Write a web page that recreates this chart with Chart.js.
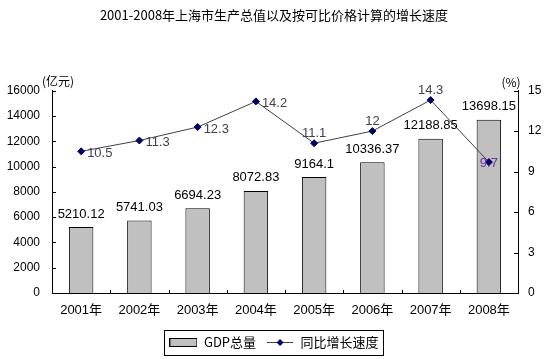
<!DOCTYPE html>
<html lang="zh">
<head>
  <meta charset="UTF-8">
  <title>2001-2008年上海市生产总值</title>
  <script src="https://cdn.jsdelivr.net/npm/chart.js"></script>
  <style>
    body { margin: 0; background: #fff; }
    canvas { display: block; }
  </style>
</head>
<body>
<canvas id="chart" width="548" height="359"></canvas>
<script>
const years = ["2001年", "2002年", "2003年", "2004年", "2005年", "2006年", "2007年", "2008年"];
const gdp = [5210.12, 5741.03, 6694.23, 8072.83, 9164.1, 10336.37, 12188.85, 13698.15];
const growth = [10.5, 11.3, 12.3, 14.2, 11.1, 12, 14.3, 9.7];
const gdpTicks = [0, 2000, 4000, 6000, 8000, 10000, 12000, 14000, 16000];
const growthTicks = [0, 3, 6, 9, 12, 15];

const FONT = "'Liberation Sans', Arial, 'Noto Sans CJK SC', sans-serif";
const CJK = "'Noto Sans CJK SC', 'Liberation Sans', sans-serif";

// legend swatches
function barSwatch() {
  const c = document.createElement("canvas");
  c.width = 28; c.height = 9;
  const g = c.getContext("2d");
  g.fillStyle = "#c0c0c0";
  g.fillRect(0, 0, 28, 9);
  g.strokeStyle = "#000";
  g.lineWidth = 1;
  g.strokeRect(0.5, 0.5, 27, 8);
  return c;
}
function lineSwatch() {
  const c = document.createElement("canvas");
  c.width = 26; c.height = 9;
  const g = c.getContext("2d");
  g.strokeStyle = "#404040";
  g.lineWidth = 1;
  g.beginPath(); g.moveTo(0, 4.5); g.lineTo(26, 4.5); g.stroke();
  g.fillStyle = "#000066";
  g.beginPath();
  g.moveTo(13, 1); g.lineTo(16.5, 4.5); g.lineTo(13, 8); g.lineTo(9.5, 4.5);
  g.closePath(); g.fill();
  return c;
}

// where each growth label sits relative to its point
const growthLabelPos = ["right", "right", "right", "right", "above", "above", "above", "center"];

const decorations = {
  id: "decorations",
  afterDatasetsDraw(chart) {
    const ctx = chart.ctx;
    ctx.save();
    ctx.font = "13px " + FONT;
    ctx.textBaseline = "middle";

    // bar value labels
    ctx.fillStyle = "#000";
    ctx.textAlign = "center";
    chart.getDatasetMeta(0).data.forEach((bar, i) => {
      ctx.fillText(String(gdp[i]), bar.x, bar.y - 13);
    });

    // growth labels
    chart.getDatasetMeta(1).data.forEach((pt, i) => {
      const pos = growthLabelPos[i];
      const txt = String(growth[i]);
      if (pos === "right") {
        ctx.fillStyle = "#404050";
        ctx.textAlign = "left";
        ctx.fillText(txt, pt.x + 6, pt.y + 2);
      } else if (pos === "above") {
        ctx.fillStyle = "#404050";
        ctx.textAlign = "center";
        ctx.fillText(txt, pt.x, pt.y - 10);
      } else {
        ctx.fillStyle = "#7030a0";
        ctx.textAlign = "center";
        ctx.fillText(txt, pt.x, pt.y + 1);
      }
    });
    ctx.restore();
  },
  afterDraw(chart) {
    const ctx = chart.ctx;
    const area = chart.chartArea;
    const x = chart.scales.x;
    const y = chart.scales.y;
    const y1 = chart.scales.y1;
    ctx.save();
    ctx.strokeStyle = "#000";
    ctx.lineWidth = 1;
    ctx.beginPath();
    gdpTicks.forEach(v => {
      const py = Math.round(y.getPixelForValue(v)) + 0.5;
      ctx.moveTo(area.left, py); ctx.lineTo(area.left + 4, py);
    });
    growthTicks.forEach(v => {
      const py = Math.round(y1.getPixelForValue(v)) + 0.5;
      ctx.moveTo(area.right - 4, py); ctx.lineTo(area.right, py);
    });
    for (let i = 1; i < years.length; i++) {
      const px = Math.round((x.getPixelForTick(i - 1) + x.getPixelForTick(i)) / 2) + 0.5;
      ctx.moveTo(px, area.bottom); ctx.lineTo(px, area.bottom - 3);
    }
    ctx.stroke();

    // axis units
    ctx.fillStyle = "#000";
    ctx.textBaseline = "middle";
    ctx.textAlign = "center";
    ctx.font = "12px " + CJK;
    ctx.fillText("(亿元)", area.left + 6, area.top - 9);
    ctx.fillText("(%)", area.right - 7, area.top - 8);

    // legend frame
    const boxes = chart.legend.legendHitBoxes;
    if (boxes && boxes.length) {
      const l = Math.min(...boxes.map(b => b.left)) - 5;
      const r = Math.max(...boxes.map(b => b.left + b.width)) + 5;
      const t = Math.min(...boxes.map(b => b.top)) - 6;
      const btm = Math.max(...boxes.map(b => b.top + b.height)) + 6;
      ctx.strokeStyle = "#000";
      ctx.strokeRect(Math.round(l) + 0.5, Math.round(t) + 0.5, Math.round(r - l), Math.round(btm - t));
    }
    ctx.restore();
  }
};

new Chart(document.getElementById("chart"), {
  data: {
    labels: years,
    datasets: [
      {
        type: "bar",
        label: "GDP总量",
        data: gdp,
        yAxisID: "y",
        backgroundColor: "#c0c0c0",
        borderColor: "#000",
        borderWidth: 1,
        categoryPercentage: 1,
        barPercentage: 0.42,
        order: 2
      },
      {
        type: "line",
        label: "同比增长速度",
        data: growth,
        yAxisID: "y1",
        borderColor: "#404040",
        borderWidth: 1,
        pointStyle: "rectRot",
        pointRadius: 3.5,
        pointBackgroundColor: "#000066",
        pointBorderColor: "#000066",
        tension: 0,
        order: 1
      }
    ]
  },
  options: {
    responsive: false,
    animation: false,
    layout: { padding: { left: 0, right: 0, top: 0, bottom: 0 } },
    plugins: {
      title: {
        display: true,
        text: "2001-2008年上海市生产总值以及按可比价格计算的增长速度",
        color: "#000",
        font: { family: CJK, size: 13, weight: "normal" },
        padding: { top: 7, bottom: 68 }
      },
      legend: {
        position: "bottom",
        labels: {
          usePointStyle: true,
          pointStyleWidth: 28,
          padding: 10,
          color: "#000",
          font: { family: CJK, size: 13 },
          generateLabels(chart) {
            const items = Chart.defaults.plugins.legend.labels.generateLabels(chart);
            items.sort((a, b) => a.datasetIndex - b.datasetIndex);
            items.forEach(it => { it.pointStyle = it.datasetIndex === 0 ? barSwatch() : lineSwatch(); });
            return items;
          }
        }
      },
      tooltip: { enabled: false }
    },
    scales: {
      x: {
        offset: true,
        grid: { display: false, drawTicks: false },
        border: { color: "#000", width: 1 },
        ticks: { color: "#000", font: { family: FONT, size: 13 }, padding: 10, maxRotation: 0 },
        afterFit(s) { s.height = 33; }
      },
      y: {
        position: "left",
        min: 0,
        max: 16000,
        grid: { display: false, drawTicks: false },
        border: { color: "#000", width: 1 },
        ticks: { stepSize: 2000, color: "#000", font: { family: FONT, size: 12 }, padding: 12, callback: v => String(v) },
        afterFit(s) { s.width = 52; }
      },
      y1: {
        position: "right",
        min: 0,
        max: 15,
        grid: { display: false, drawTicks: false },
        border: { color: "#000", width: 1 },
        ticks: { stepSize: 3, color: "#000", font: { family: FONT, size: 12 }, padding: 10, callback: v => String(v) },
        afterFit(s) { s.width = 30; }
      }
    }
  },
  plugins: [decorations]
});
</script>
</body>
</html>
